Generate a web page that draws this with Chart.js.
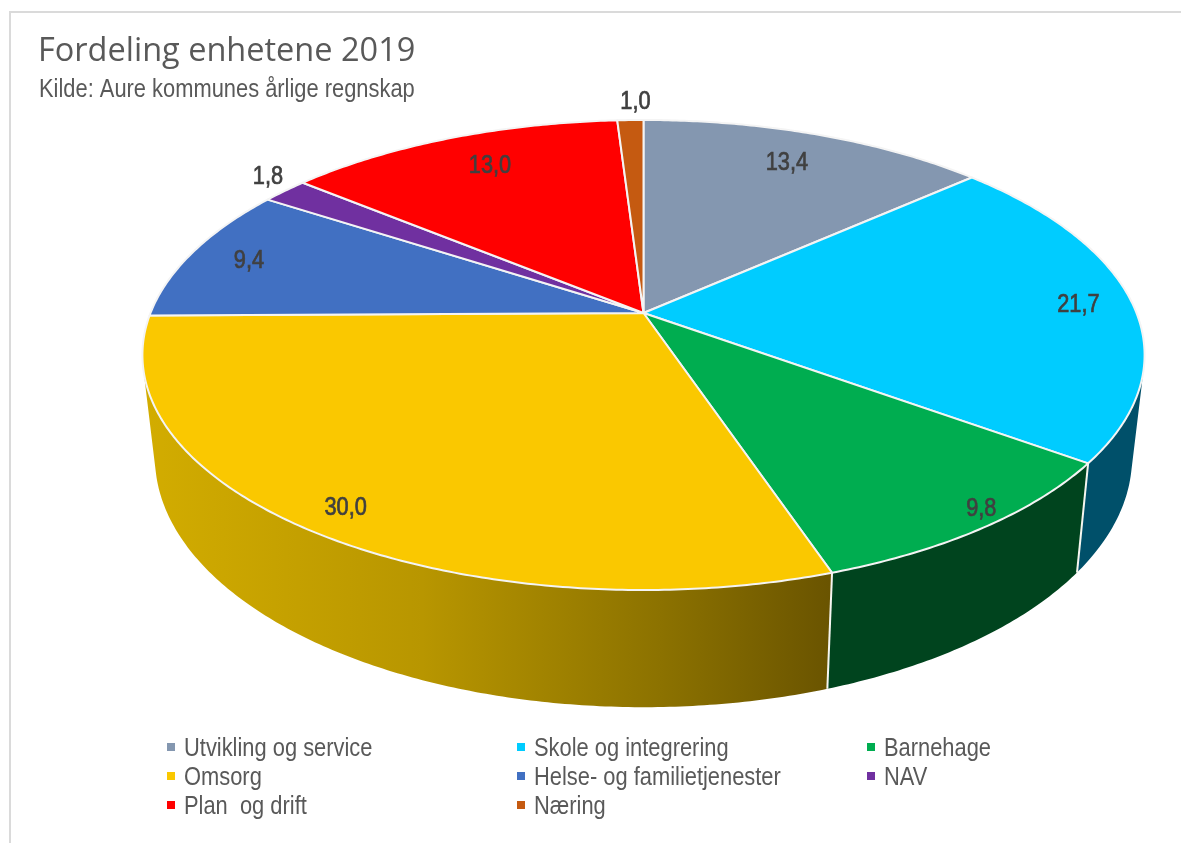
<!DOCTYPE html>
<html lang="no">
<head>
<meta charset="utf-8">
<title>Fordeling enhetene 2019</title>
<style>
  html, body { margin: 0; padding: 0; background: #fff; }
  canvas { display: block; }
</style>
<script src="https://cdn.jsdelivr.net/npm/chart.js@4"></script>
</head>
<body>
<canvas id="pie" width="1181" height="843"></canvas>
<script>
// Chart content
const categories = ['Utvikling og service', 'Skole og integrering', 'Barnehage', 'Omsorg',
                    'Helse- og familietjenester', 'NAV', 'Plan  og drift', 'Næring'];
const shares = [13.4, 21.7, 9.8, 30.0, 9.4, 1.8, 13.0, 1.0];
const sliceColors = ['#8497B0', '#00CCFF', '#00AD50', '#FAC800', '#4170C2', '#7030A0', '#FF0000', '#C55A11'];
const wallColors = ['#4a5566', '#00506A', '#00441E', null, '#24406e', '#3e1a59', '#8c0000', '#6d3209'];
const chartTitle = 'Fordeling enhetene 2019';
const chartSource = 'Kilde: Aure kommunes årlige regnskap';

// How far out each value label sits, as a fraction of the radius, plus a small angular nudge in degrees
const labelReach = [0.825, 0.89, 0.95, 0.905, 0.87, 1.09, 0.82, 1.12];
const labelNudge = [-0.5, 0, -2.6, 0, 0, 2, 1.5, 0.8];

// Camera used to tilt the flat pie: the disc is seen in perspective from the front
const CENTER_X = 643.5, CENTER_Y = 313;
const SPREAD_X = 493, SPREAD_Y = 227.5, NEAR_GAIN = 0.1787;
// The lower rim of the drum relative to the upper one
const FLOOR_X = 0.975, FLOOR_Y = 1.063, FLOOR_SHIFT = 80;

const SANS = '"Liberation Sans", Arial, sans-serif';
const TEXT_GREY = '#595959';
const NARROWING = 0.875; // horizontal squeeze that gives the condensed look

function onDisc(angle, reach) {
  // angle is the library's arc angle (0 = east, clockwise)
  const u = Math.cos(angle) * reach, v = Math.sin(angle) * reach;
  const w = 1 - NEAR_GAIN * v;
  return { x: CENTER_X + SPREAD_X * u / w, y: CENTER_Y + SPREAD_Y * v / w };
}
function onFloor(angle) {
  const p = onDisc(angle, 1);
  return { x: CENTER_X + FLOOR_X * (p.x - CENTER_X), y: FLOOR_Y * p.y + FLOOR_SHIFT };
}
function sweep(a0, a1) {
  const n = Math.max(2, Math.ceil(Math.abs(a1 - a0) / 0.01));
  return Array.from({ length: n + 1 }, (_, i) => a0 + (a1 - a0) * i / n);
}
function narrowText(ctx, text, x, y, squeeze) {
  ctx.save();
  ctx.translate(x, y);
  ctx.scale(squeeze, 1);
  ctx.fillText(text, 0, 0);
  ctx.restore();
}
// Adds a quad to the current path, always wound the same way so overlaps merge under nonzero fill
function addQuad(ctx, pts) {
  let area = 0;
  pts.forEach((p, i) => {
    const q = pts[(i + 1) % pts.length];
    area += p.x * q.y - q.x * p.y;
  });
  const ordered = area < 0 ? pts.slice().reverse() : pts;
  ordered.forEach((p, i) => { i ? ctx.lineTo(p.x, p.y) : ctx.moveTo(p.x, p.y); });
  ctx.closePath();
}

const tiltedPie = {
  id: 'tiltedPie',
  beforeDraw(chart) {
    // Frame of the chart object
    const { ctx } = chart;
    ctx.save();
    ctx.strokeStyle = '#DADADA';
    ctx.lineWidth = 2;
    ctx.beginPath();
    ctx.moveTo(10, chart.height);
    ctx.lineTo(10, 12);
    ctx.lineTo(chart.width, 12);
    ctx.stroke();
    ctx.restore();
  },
  beforeDatasetDraw(chart, args) {
    const { ctx } = chart;
    const arcs = chart.getDatasetMeta(args.index).data;

    // Outer wall: back slices first so the front ones overlap them
    const order = arcs.map((a, i) => i)
      .sort((i, j) => Math.sin((arcs[i].startAngle + arcs[i].endAngle) / 2)
                    - Math.sin((arcs[j].startAngle + arcs[j].endAngle) / 2));
    const goldWall = ctx.createLinearGradient(150, 0, 830, 0);
    goldWall.addColorStop(0, '#D2AC00');
    goldWall.addColorStop(0.4, '#B89600');
    goldWall.addColorStop(0.75, '#8C7200');
    goldWall.addColorStop(1, '#6A5400');

    ctx.save();
    ctx.lineJoin = 'round';
    for (const i of order) {
      ctx.fillStyle = wallColors[i] || goldWall;
      const steps = sweep(arcs[i].startAngle, arcs[i].endAngle);
      ctx.beginPath();
      for (let k = 0; k < steps.length - 1; k++) {
        addQuad(ctx, [onDisc(steps[k], 1), onDisc(steps[k + 1], 1), onFloor(steps[k + 1]), onFloor(steps[k])]);
      }
      ctx.fill('nonzero');
    }

    // White seams between the wall pieces that face the viewer
    ctx.strokeStyle = '#F6F6F0';
    ctx.lineWidth = 2;
    arcs.forEach(arc => {
      if (Math.sin(arc.startAngle) > 0.2) {
        const t = onDisc(arc.startAngle, 1), f = onFloor(arc.startAngle);
        ctx.beginPath();
        ctx.moveTo(t.x, t.y);
        ctx.lineTo(f.x, f.y);
        ctx.stroke();
      }
    });

    // Top surface
    arcs.forEach(arc => {
      ctx.beginPath();
      ctx.moveTo(CENTER_X, CENTER_Y);
      sweep(arc.startAngle, arc.endAngle).forEach(a => { const p = onDisc(a, 1); ctx.lineTo(p.x, p.y); });
      ctx.closePath();
      ctx.fillStyle = arc.options.backgroundColor;
      ctx.fill();
      ctx.strokeStyle = arc.options.borderColor;
      ctx.lineWidth = arc.options.borderWidth;
      ctx.stroke();
    });
    ctx.restore();
    return false; // the tilted slices replace the flat ones
  },
  afterDatasetsDraw(chart) {
    const { ctx } = chart;
    const arcs = chart.getDatasetMeta(0).data;
    ctx.save();

    // Source line under the title
    ctx.font = '25px ' + SANS;
    ctx.fillStyle = TEXT_GREY;
    ctx.textAlign = 'left';
    ctx.textBaseline = 'alphabetic';
    narrowText(ctx, chartSource, 39, 97, NARROWING);

    // Value labels with a decimal comma
    ctx.font = '25px ' + SANS;
    ctx.fillStyle = '#404040';
    ctx.strokeStyle = '#404040';
    ctx.lineWidth = 0.7;
    ctx.textAlign = 'center';
    ctx.textBaseline = 'middle';
    arcs.forEach((arc, i) => {
      const mid = (arc.startAngle + arc.endAngle) / 2 + labelNudge[i] * Math.PI / 180;
      const p = onDisc(mid, labelReach[i]);
      const text = shares[i].toFixed(1).replace('.', ',');
      ctx.save();
      ctx.translate(p.x, p.y + 1.5);
      ctx.scale(0.87, 1);
      ctx.fillText(text, 0, 0);
      ctx.strokeText(text, 0, 0);
      ctx.restore();
    });

    // Three-column legend
    ctx.font = '25px ' + SANS;
    ctx.textAlign = 'left';
    ctx.textBaseline = 'alphabetic';
    categories.forEach((name, i) => {
      const x = 167 + (i % 3) * 350;
      const base = 756 + Math.floor(i / 3) * 29;
      ctx.fillStyle = sliceColors[i];
      ctx.fillRect(x, base - 13, 8, 8);
      ctx.fillStyle = TEXT_GREY;
      narrowText(ctx, name, x + 17, base, NARROWING);
    });
    ctx.restore();
  }
};

new Chart(document.getElementById('pie'), {
  type: 'pie',
  data: {
    labels: categories,
    datasets: [{
      data: shares,
      backgroundColor: sliceColors,
      borderColor: '#F4F4F4',
      borderWidth: 2
    }]
  },
  plugins: [tiltedPie],
  options: {
    responsive: false,
    animation: false,
    events: [],
    layout: { padding: { left: 38, top: 32 } },
    plugins: {
      legend: { display: false },
      tooltip: { enabled: false },
      title: {
        display: true,
        text: chartTitle,
        align: 'start',
        color: TEXT_GREY,
        font: { family: '"Open Sans", sans-serif', size: 32.5, weight: 'normal' },
        padding: { top: 0, bottom: 30 }
      }
    }
  }
});
</script>
</body>
</html>
